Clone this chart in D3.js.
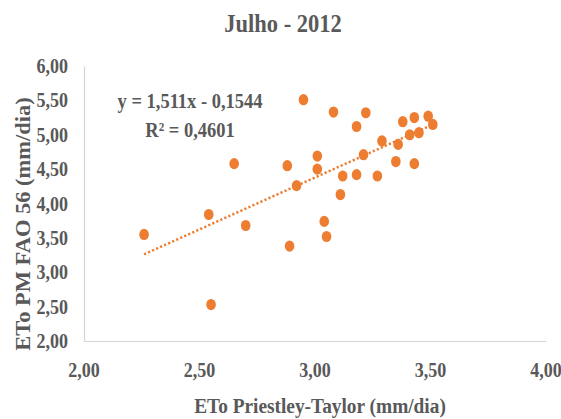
<!DOCTYPE html>
<html>
<head>
<meta charset="utf-8">
<script src="https://cdn.jsdelivr.net/npm/d3@7"></script>
<style>
  html, body { margin: 0; padding: 0; background: #fff; }
  svg text { font-family: "Liberation Serif", "Times New Roman", serif; font-weight: bold; fill: #595959; }
</style>
</head>
<body>
<svg id="chart" width="561" height="419"></svg>
<script>
// Daily ETo, July 2012: Priestley-Taylor (x) vs. Penman-Monteith FAO 56 (y), mm/dia
const etoPT = [2.95, 3.08, 3.22, 3.18, 3.38, 3.43, 3.49, 3.51, 3.41, 3.45, 3.29,
               3.36, 3.21, 3.01, 2.88, 3.01, 3.35, 3.43, 3.12, 3.18, 3.27, 2.92,
               3.11, 3.04, 2.26, 2.54, 2.70, 2.55, 2.89, 3.05, 2.65];
const etoPM = [5.51, 5.33, 5.32, 5.12, 5.19, 5.25, 5.27, 5.15, 5.00, 5.03, 4.91,
               4.86, 4.71, 4.69, 4.55, 4.50, 4.61, 4.58, 4.40, 4.42, 4.40, 4.26,
               4.13, 3.74, 3.55, 3.84, 3.68, 2.53, 3.38, 3.52, 4.58];

// Linear trend as reported on the chart
const slope = 1.511;
const intercept = -0.1544;
const rSquared = 0.4601;

const xTicks = [2.0, 2.5, 3.0, 3.5, 4.0];
const yTicks = [2.0, 2.5, 3.0, 3.5, 4.0, 4.5, 5.0, 5.5, 6.0];

const titleText = "Julho - 2012";
const xTitle = "ETo Priestley-Taylor (mm/dia)";
const yTitle = "ETo PM FAO 56 (mm/dia)";

const fmt = v => v.toFixed(2).replace(".", ",");
const fmtN = (v, d) => v.toFixed(d).replace(".", ",");

const svg = d3.select("#chart");
const x = d3.scaleLinear().domain([2, 4]).range([84, 546]);
const y = d3.scaleLinear().domain([2, 6]).range([341, 66]);
const squeeze = 0.9;

// Helper: horizontally condensed text
function label(parent, tx, ty, str, size, anchor) {
  return parent.append("g")
    .attr("transform", `translate(${tx},${ty}) scale(${squeeze},1)`)
    .append("text")
    .attr("text-anchor", anchor || "middle")
    .attr("font-size", size)
    .text(str);
}

// Axes (lines only, no ticks)
const xAxis = d3.axisBottom(x).tickValues(xTicks).tickSize(0).tickFormat("");
const yAxis = d3.axisLeft(y).tickValues(yTicks).tickSize(0).tickFormat("");
svg.append("g").attr("transform", `translate(0,${y(2)})`).call(xAxis)
  .call(g => g.select(".domain").attr("stroke", "#d4d4d4").attr("stroke-width", 1.2));
svg.append("g").attr("transform", `translate(${x(2)},0)`).call(yAxis)
  .call(g => g.select(".domain").attr("stroke", "#d4d4d4").attr("stroke-width", 1.2));

// Tick labels
xTicks.forEach(t => label(svg, x(t), 377, fmt(t), 20, "middle"));
yTicks.forEach(t => label(svg, 68, y(t) + 7, fmt(t), 20, "end"));

// Trend line across the data range
const xMin = d3.min(etoPT), xMax = d3.max(etoPT);
svg.append("line")
  .attr("x1", x(xMin)).attr("y1", y(slope * xMin + intercept))
  .attr("x2", x(xMax)).attr("y2", y(slope * xMax + intercept))
  .attr("stroke", "#ED7D31")
  .attr("stroke-width", 2.5)
  .attr("stroke-dasharray", "2.2,2.2");

// Points
svg.append("g").selectAll("ellipse")
  .data(d3.zip(etoPT, etoPM))
  .join("ellipse")
  .attr("cx", d => x(d[0]))
  .attr("cy", d => y(d[1]))
  .attr("rx", 4.8)
  .attr("ry", 5.6)
  .attr("fill", "#ED7D31");

// Regression equation
label(svg, 190, 108, `y = ${fmtN(slope, 3)}x - ${fmtN(-intercept, 4)}`, 20.5, "middle");
label(svg, 190, 137, `R² = ${fmtN(rSquared, 4)}`, 20.5, "middle");

// Titles
label(svg, 283, 32, titleText, 25, "middle");
label(svg, 320, 413, xTitle, 21.5, "middle");
svg.append("text")
  .attr("transform", `translate(30,224) rotate(-90) scale(1,${squeeze})`)
  .attr("text-anchor", "middle")
  .attr("font-size", 22.5)
  .text(yTitle);
</script>
</body>
</html>
